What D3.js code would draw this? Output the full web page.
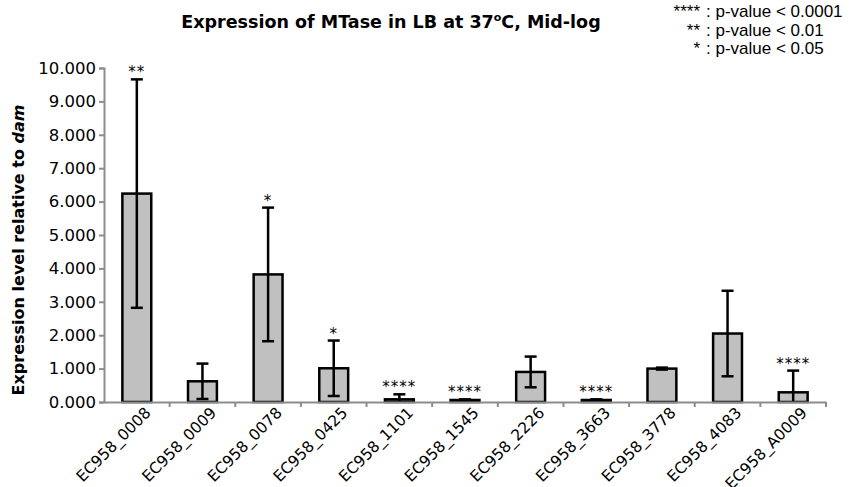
<!DOCTYPE html>
<html>
<head>
<meta charset="utf-8">
<script src="https://cdn.jsdelivr.net/npm/d3@7"></script>
<style>
  body { margin: 0; background: #fff; }
  .tick text { font-family: 'DejaVu Sans', sans-serif; }
</style>
</head>
<body>
<div id="chart"></div>
<script>
// Values
const categories = ['EC958_0008', 'EC958_0009', 'EC958_0078', 'EC958_0425', 'EC958_1101', 'EC958_1545',
  'EC958_2226', 'EC958_3663', 'EC958_3778', 'EC958_4083', 'EC958_A0009'];
const values = [6.24, 0.62, 3.82, 1.01, 0.08, 0.06, 0.90, 0.06, 1.00, 2.05, 0.29];
const errors = [3.42, 0.53, 2.00, 0.83, 0.15, 0.02, 0.46, 0.02, 0.03, 1.28, 0.65];
const stars = ['**', '', '*', '*', '****', '****', '', '****', '', '', '****'];
const yTicks = [0, 1, 2, 3, 4, 5, 6, 7, 8, 9, 10];
const legendStars = ['****', '**', '*'];
const legendText = [': p-value < 0.0001', ': p-value < 0.01', ': p-value < 0.05'];

const width = 849;
const height = 487;
const margin = { top: 68, right: 23, bottom: 85, left: 104 };

const svg = d3.select('#chart').append('svg').attr('width', width).attr('height', height);

// Scales
const xScale = d3.scaleBand().domain(categories).range([margin.left, width - margin.right]).paddingInner(0).paddingOuter(0);
const yScale = d3.scaleLinear().domain([0, 10]).range([height - margin.bottom, margin.top]);
const barW = xScale.bandwidth() * 0.44;

// Bars
svg.append('g')
  .selectAll('rect')
  .data(categories)
  .join('rect')
  .attr('x', (d) => xScale(d) + xScale.bandwidth() / 2 - barW / 2)
  .attr('y', (d, i) => yScale(values[i]))
  .attr('width', barW)
  .attr('height', (d, i) => yScale(0) - yScale(values[i]))
  .attr('fill', '#c0c0c0')
  .attr('stroke', '#000')
  .attr('stroke-width', 2.5);

// Error bars (lower end clipped at the axis)
const err = svg.append('g').attr('stroke', '#000').attr('stroke-width', 2.5);
categories.forEach((c, i) => {
  const cx = xScale(c) + xScale.bandwidth() / 2;
  const hi = yScale(values[i] + errors[i]);
  const lo = yScale(Math.max(0, values[i] - errors[i]));
  err.append('line').attr('x1', cx).attr('x2', cx).attr('y1', hi).attr('y2', lo);
  err.append('line').attr('x1', cx - 6).attr('x2', cx + 6).attr('y1', hi).attr('y2', hi);
  if (values[i] - errors[i] > 0) {
    err.append('line').attr('x1', cx - 6).attr('x2', cx + 6).attr('y1', lo).attr('y2', lo);
  }
});

// Significance stars
svg.append('g')
  .selectAll('text')
  .data(categories)
  .join('text')
  .attr('x', (d) => xScale(d) + xScale.bandwidth() / 2)
  .attr('y', (d, i) => yScale(values[i] + errors[i]) - 2)
  .attr('text-anchor', 'middle')
  .style('font-family', 'DejaVu Sans, sans-serif')
  .style('font-size', '15px')
  .style('letter-spacing', '1px')
  .text((d, i) => stars[i]);

// Axes
const yAxis = svg.append('g')
  .attr('transform', `translate(${margin.left},0)`)
  .call(d3.axisLeft(yScale).tickValues(yTicks).tickFormat(d3.format('.3f')).tickSize(5).tickPadding(3));
yAxis.selectAll('text').style('font-size', '16.5px').attr('fill', '#000');

const xAxis = svg.append('g')
  .attr('transform', `translate(0,${yScale(0)})`)
  .call(d3.axisBottom(xScale).tickSize(0).tickFormat(''));
// ticks at the band edges
xAxis.selectAll('.edge')
  .data(categories)
  .join('line')
  .attr('class', 'edge')
  .attr('x1', (d, i) => margin.left + xScale.step() * (i + 1))
  .attr('x2', (d, i) => margin.left + xScale.step() * (i + 1))
  .attr('y1', 0)
  .attr('y2', 5);
svg.selectAll('.domain, .tick line, .edge').attr('stroke', '#8c8c8c').attr('stroke-width', 2);

// Rotated category labels
svg.append('g')
  .selectAll('text')
  .data(categories)
  .join('text')
  .attr('transform', (d) => `translate(${xScale(d) + xScale.bandwidth() / 2 + 11},${yScale(0) + 8}) rotate(-45)`)
  .attr('text-anchor', 'end')
  .attr('dy', '0.35em')
  .style('font-family', 'DejaVu Sans, sans-serif')
  .style('font-size', '15.5px')
  .text((d) => d);

// Y axis title
const yTitle = svg.append('text')
  .attr('transform', `translate(24,${(margin.top + yScale(0)) / 2 + 15}) rotate(-90)`)
  .attr('text-anchor', 'middle')
  .style('font-family', 'DejaVu Sans, sans-serif')
  .style('font-size', '16px')
  .style('font-weight', 'bold');
yTitle.append('tspan').text('Expression level relative to ');
yTitle.append('tspan').style('font-style', 'italic').text('dam');

// Chart title with superscript degree
const title = svg.append('text')
  .attr('x', 391)
  .attr('y', 28)
  .attr('text-anchor', 'middle')
  .style('font-family', 'DejaVu Sans, sans-serif')
  .style('font-size', '17.5px')
  .style('font-weight', 'bold');
title.append('tspan').text('Expression of MTase in LB at 37');
title.append('tspan').attr('dy', -7).style('font-size', '11px').text('o');
title.append('tspan').attr('dy', 7).text('C, Mid-log');

// Legend for p-values
const legend = svg.append('g')
  .style('font-family', "'Liberation Sans', Arial, sans-serif")
  .style('font-size', '17px');
legendStars.forEach((s, i) => {
  legend.append('text').attr('x', 700).attr('y', 17 + i * 18.5).attr('text-anchor', 'end').text(s);
  legend.append('text').attr('x', 706).attr('y', 17 + i * 18.5).text(legendText[i]);
});
</script>
</body>
</html>
